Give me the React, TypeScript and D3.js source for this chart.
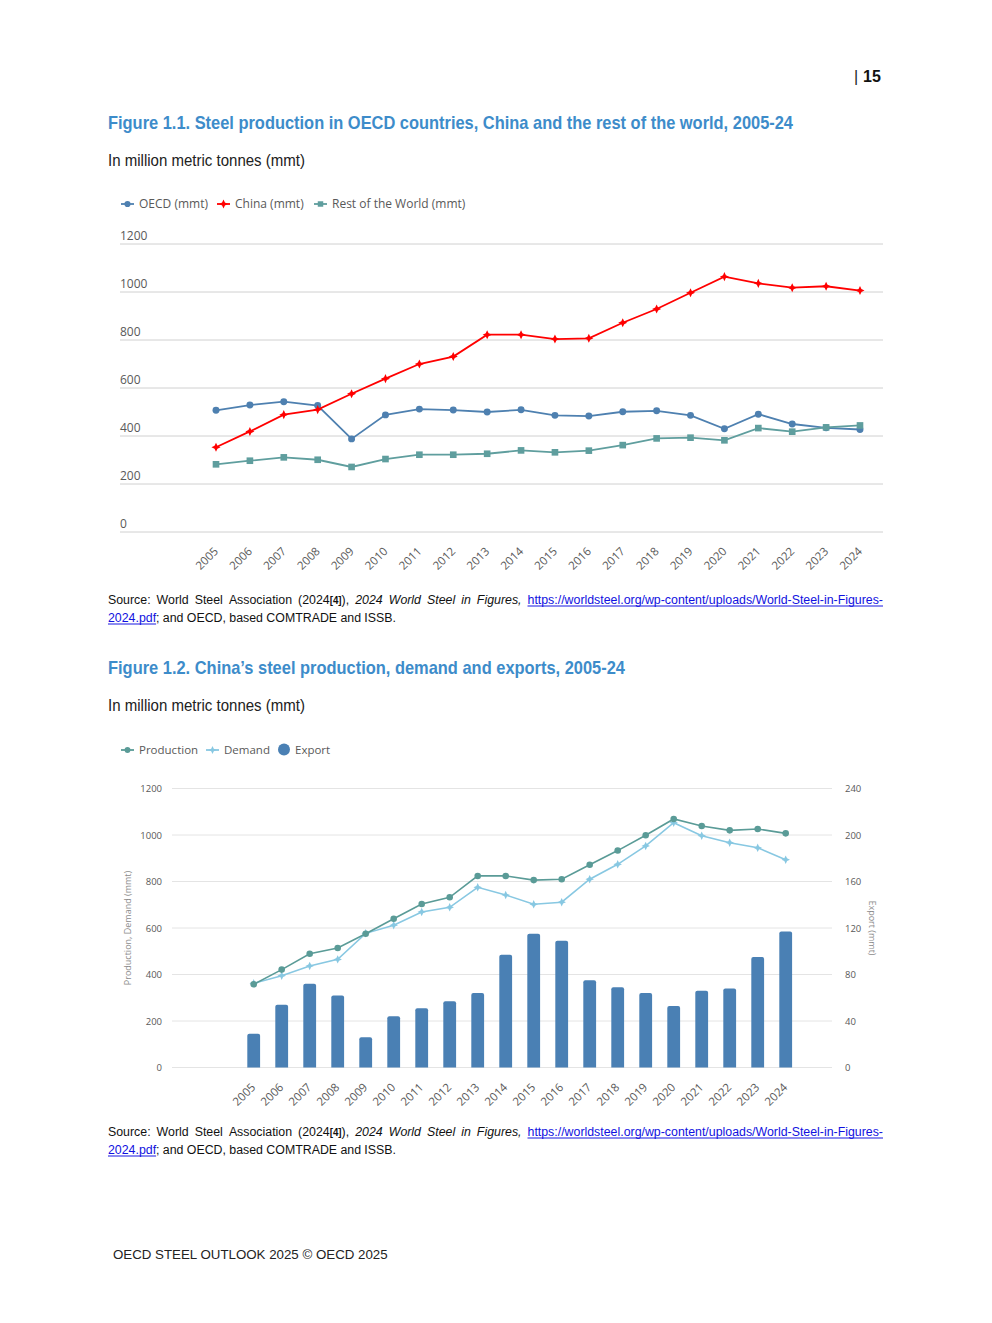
import React, { useEffect, useRef } from "react";
import * as d3 from "d3";

// values, mmt
const years = ["2005", "2006", "2007", "2008", "2009", "2010", "2011", "2012", "2013", "2014",
    "2015", "2016", "2017", "2018", "2019", "2020", "2021", "2022", "2023", "2024"];

const oecd = [507, 529, 543, 527, 388, 488, 512, 508, 500, 509, 486, 483, 501, 505, 486, 430, 491, 450, 434, 427];
const china = [353, 419, 489, 510, 576, 639, 700, 731, 822, 822, 804, 807, 872, 929, 997, 1064, 1036, 1018, 1024, 1006];
const restOfWorld = [282, 297, 311, 301, 271, 304, 322, 322, 326, 340, 332, 339, 362, 390, 393, 382, 433, 418, 436, 444];

const production = [358, 421, 489, 514, 575, 640, 703, 732, 824, 824, 806, 810, 872, 933, 999, 1069, 1039, 1020, 1026, 1007];
const demand = [362, 395, 437, 465, 577, 612, 669, 689, 775, 742, 702, 711, 810, 874, 953, 1053, 997, 967, 945, 894];
const exportVals = [29, 54, 72, 62, 26, 44, 51, 57, 64, 97, 115, 109, 75, 69, 64, 53, 66, 68, 95, 117];

const leftTicks = [0, 200, 400, 600, 800, 1000, 1200];
const rightTicks = [0, 40, 80, 120, 160, 200, 240];

const FONT_UI = "'Open Sans', 'Noto Sans', sans-serif";
const FONT_NARROW = "'Liberation Sans Narrow', 'Arial Narrow', 'Liberation Sans', sans-serif";
const FONT_ARIAL = "'Liberation Sans', Arial, sans-serif";

const C_OECD = "#4e80b0";
const C_CHINA = "#ff0000";
const C_ROW = "#5f9e9e";
const C_PROD = "#5a9b97";
const C_DEMAND = "#88c8e2";
const C_EXPORT = "#4a80b4";
const C_TITLE = "#3d8cca";
const C_AXIS = "#595959";

type Piece = { t: string; italic?: boolean; link?: boolean; small?: boolean };

const sourceLine1: Piece[][] = [
    [{ t: "Source:" }], [{ t: "World" }], [{ t: "Steel" }], [{ t: "Association" }],
    [{ t: "(2024" }, { t: "[4]", small: true }, { t: ")," }],
    [{ t: "2024", italic: true }], [{ t: "World", italic: true }], [{ t: "Steel", italic: true }],
    [{ t: "in", italic: true }], [{ t: "Figures,", italic: true }],
    [{ t: "https://worldsteel.org/wp-content/uploads/World-Steel-in-Figures-", link: true }],
];
const sourceLine2: Piece[][] = [
    [{ t: "2024.pdf", link: true }, { t: ";" }], [{ t: "and" }], [{ t: "OECD," }], [{ t: "based" }],
    [{ t: "COMTRADE" }], [{ t: "and" }], [{ t: "ISSB." }],
];

// four pointed star marker
const star4 = {
    draw(ctx: any, size: number) {
        const r = Math.sqrt(size) * 0.8;
        const i = r * 0.32;
        ctx.moveTo(0, -r); ctx.lineTo(i, -i); ctx.lineTo(r, 0); ctx.lineTo(i, i);
        ctx.lineTo(0, r); ctx.lineTo(-i, i); ctx.lineTo(-r, 0); ctx.lineTo(-i, -i);
        ctx.closePath();
    },
};

// narrow look: draw in the sans font and squeeze horizontally
const CONDENSE = 0.93;

function textLine(svg: any, y: number, x0: number, x1: number, words: Piece[][], justify: boolean) {
    const g = svg.append("g")
        .attr("transform", `translate(${x0},0) scale(${CONDENSE},1) translate(${-x0},0)`);
    const nodes = words.map((w) => {
        const t = g.append("text").attr("y", y)
            .attr("font-family", FONT_NARROW).attr("font-size", 13.3).attr("fill", "#111");
        w.forEach((p) => {
            t.append("tspan").text(p.t)
                .attr("font-style", p.italic ? "italic" : null)
                .attr("fill", p.link ? "#1010e0" : null)
                .attr("font-size", p.small ? 10.5 : null)
                .attr("font-weight", p.small ? "bold" : null);
        });
        return t;
    });
    const widths = nodes.map((n: any) => (n.node() as SVGTextElement).getComputedTextLength());
    const total = d3.sum(widths);
    const avail = (x1 - x0) / CONDENSE;
    let gap = justify ? (avail - total) / (words.length - 1) : 3.6;
    if (justify && gap < 2) {
        const s = avail / (total + 2 * (words.length - 1));
        g.attr("transform", `translate(${x0},0) scale(${CONDENSE * s},1) translate(${-x0},0)`);
        gap = 2;
    }
    let x = x0;
    nodes.forEach((n: any, i: number) => {
        n.attr("x", x);
        let px = x;
        n.selectAll("tspan").each(function (this: SVGTSpanElement, _d: any, k: number) {
            const w = this.getComputedTextLength();
            if (words[i][k].link) {
                g.append("line").attr("x1", px).attr("x2", px + w)
                    .attr("y1", y + 2).attr("y2", y + 2)
                    .attr("stroke", "#1010e0").attr("stroke-width", 1);
            }
            px += w;
        });
        x += widths[i] + gap;
    });
}

function legendItem(svg: any, x: number, y: number, color: string, symbol: any, size: number, label: string, fontSize: number) {
    svg.append("line").attr("x1", x).attr("x2", x + 13).attr("y1", y).attr("y2", y)
        .attr("stroke", color).attr("stroke-width", 1.8);
    svg.append("path").attr("transform", `translate(${x + 6.5},${y})`)
        .attr("d", d3.symbol().type(symbol).size(size)()).attr("fill", color);
    svg.append("text").attr("x", x + 18).attr("y", y + 4).text(label)
        .attr("font-family", FONT_UI).attr("font-size", fontSize).attr("fill", C_AXIS);
}

function heading(svg: any, x: number, y: number, text: string, size: number, bold: boolean, color: string, len: number) {
    svg.append("text").attr("x", x).attr("y", y).text(text)
        .attr("font-family", FONT_NARROW).attr("font-size", size)
        .attr("font-weight", bold ? "bold" : null).attr("fill", color)
        .attr("textLength", len).attr("lengthAdjust", "spacingAndGlyphs");
}

const App: React.FC = () => {
    const svgRef = useRef<SVGSVGElement | null>(null);

    useEffect(() => {
        if (!svgRef.current) return;
        const svg = d3.select(svgRef.current);
        svg.selectAll("*").remove();

        // page number
        svg.append("text").attr("x", 854).attr("y", 82).text("|")
            .attr("font-family", FONT_ARIAL).attr("font-size", 16).attr("fill", "#222");
        svg.append("text").attr("x", 863).attr("y", 82).text("15")
            .attr("font-family", FONT_ARIAL).attr("font-size", 16).attr("font-weight", "bold").attr("fill", "#111");

        // ---------- Figure 1.1 ----------
        heading(svg, 108, 129, "Figure 1.1. Steel production in OECD countries, China and the rest of the world, 2005-24",
            19, true, C_TITLE, 685);
        heading(svg, 108, 166, "In million metric tonnes (mmt)", 17, false, "#222", 197);

        legendItem(svg, 121, 204, C_OECD, d3.symbolCircle, 30, "OECD (mmt)", 12);
        legendItem(svg, 217, 204, C_CHINA, star4, 30, "China (mmt)", 12);
        legendItem(svg, 314, 204, C_ROW, d3.symbolSquare, 30, "Rest of the World (mmt)", 12);

        const x1 = d3.scalePoint<string>().domain(years).range([216, 860]);
        const y1 = d3.scaleLinear().domain([0, 1200]).range([532, 244]);

        const g1 = svg.append("g");
        g1.selectAll("line.grid").data(leftTicks).enter().append("line")
            .attr("x1", 120).attr("x2", 883)
            .attr("y1", (d) => y1(d)).attr("y2", (d) => y1(d))
            .attr("stroke", "#d0d0d0").attr("stroke-width", 1);
        g1.selectAll("text.ylab").data(leftTicks).enter().append("text")
            .attr("x", 120).attr("y", (d) => y1(d) - 4).text((d) => String(d))
            .attr("font-family", FONT_UI).attr("font-size", 12).attr("fill", C_AXIS);
        g1.selectAll("text.xlab").data(years).enter().append("text")
            .attr("transform", (d) => `translate(${x1(d)! + 3},552) rotate(-45)`)
            .attr("text-anchor", "end").text((d) => d)
            .attr("font-family", FONT_UI).attr("font-size", 11.5).attr("fill", C_AXIS);

        const series1 = [
            { values: oecd, color: C_OECD, symbol: d3.symbolCircle, size: 38 },
            { values: china, color: C_CHINA, symbol: star4, size: 32 },
            { values: restOfWorld, color: C_ROW, symbol: d3.symbolSquare, size: 44 },
        ];
        series1.forEach((s) => {
            const line = d3.line<number>().x((_d, i) => x1(years[i])!).y((d) => y1(d));
            g1.append("path").datum(s.values).attr("d", line)
                .attr("fill", "none").attr("stroke", s.color).attr("stroke-width", 1.8);
            g1.append("g").selectAll("path").data(s.values).enter().append("path")
                .attr("transform", (d, i) => `translate(${x1(years[i])},${y1(d)})`)
                .attr("d", d3.symbol().type(s.symbol as any).size(s.size)() as string)
                .attr("fill", s.color);
        });

        textLine(svg, 604, 108, 883, sourceLine1, true);
        textLine(svg, 622, 108, 883, sourceLine2, false);

        // ---------- Figure 1.2 ----------
        heading(svg, 108, 674, "Figure 1.2. China\u2019s steel production, demand and exports, 2005-24",
            19, true, C_TITLE, 517);
        heading(svg, 108, 711, "In million metric tonnes (mmt)", 17, false, "#222", 197);

        legendItem(svg, 121, 750, C_PROD, d3.symbolCircle, 26, "Production", 11.5);
        legendItem(svg, 206, 750, C_DEMAND, star4, 26, "Demand", 11.5);
        svg.append("circle").attr("cx", 284).attr("cy", 749.5).attr("r", 6).attr("fill", C_EXPORT);
        svg.append("text").attr("x", 295).attr("y", 754).text("Export")
            .attr("font-family", FONT_UI).attr("font-size", 11.5).attr("fill", C_AXIS);

        const x2 = d3.scalePoint<string>().domain(years).range([253.7, 785.7]);
        const yL = d3.scaleLinear().domain([0, 1200]).range([1067.5, 788.5]);
        const yR = d3.scaleLinear().domain([0, 240]).range([1067.5, 788.5]);

        const g2 = svg.append("g");
        g2.selectAll("line.grid").data(leftTicks).enter().append("line")
            .attr("x1", 172).attr("x2", 832)
            .attr("y1", (d) => yL(d)).attr("y2", (d) => yL(d))
            .attr("stroke", "#e4e4e4").attr("stroke-width", 1);
        g2.selectAll("text.yl").data(leftTicks).enter().append("text")
            .attr("x", 162).attr("y", (d) => yL(d) + 3.5).attr("text-anchor", "end").text((d) => String(d))
            .attr("font-family", FONT_UI).attr("font-size", 9.5).attr("fill", C_AXIS);
        g2.selectAll("text.yr").data(rightTicks).enter().append("text")
            .attr("x", 845).attr("y", (d) => yR(d) + 3.5).text((d) => String(d))
            .attr("font-family", FONT_UI).attr("font-size", 9.5).attr("fill", C_AXIS);
        g2.append("text").attr("transform", "translate(131,928) rotate(-90)")
            .attr("text-anchor", "middle").text("Production, Demand (mmt)")
            .attr("font-family", FONT_UI).attr("font-size", 9).attr("fill", "#8c8c8c");
        g2.append("text").attr("transform", "translate(869,928) rotate(90)")
            .attr("text-anchor", "middle").text("Export (mmt)")
            .attr("font-family", FONT_UI).attr("font-size", 9).attr("fill", "#8c8c8c");
        g2.selectAll("text.xlab").data(years).enter().append("text")
            .attr("transform", (d) => `translate(${x2(d)! + 2.5},1088) rotate(-45)`)
            .attr("text-anchor", "end").text((d) => d)
            .attr("font-family", FONT_UI).attr("font-size", 11.5).attr("fill", C_AXIS);

        const barW = 12.8;
        g2.selectAll("path.bar").data(exportVals).enter().append("path")
            .attr("d", (d, i) => {
                const x = x2(years[i])! - barW / 2;
                const top = yR(d);
                const r = 2;
                return `M${x},${yR(0)}V${top + r}Q${x},${top} ${x + r},${top}H${x + barW - r}Q${x + barW},${top} ${x + barW},${top + r}V${yR(0)}Z`;
            })
            .attr("fill", C_EXPORT);

        const series2 = [
            { values: demand, color: C_DEMAND, symbol: star4, size: 28 },
            { values: production, color: C_PROD, symbol: d3.symbolCircle, size: 34 },
        ];
        series2.forEach((s) => {
            const line = d3.line<number>().x((_d, i) => x2(years[i])!).y((d) => yL(d));
            g2.append("path").datum(s.values).attr("d", line)
                .attr("fill", "none").attr("stroke", s.color).attr("stroke-width", 1.6);
            g2.append("g").selectAll("path").data(s.values).enter().append("path")
                .attr("transform", (d, i) => `translate(${x2(years[i])},${yL(d)})`)
                .attr("d", d3.symbol().type(s.symbol as any).size(s.size)() as string)
                .attr("fill", s.color);
        });

        textLine(svg, 1136, 108, 883, sourceLine1, true);
        textLine(svg, 1154, 108, 883, sourceLine2, false);

        // footer
        svg.append("text").attr("x", 113).attr("y", 1259).text("OECD STEEL OUTLOOK 2025 \u00A9 OECD 2025")
            .attr("font-family", FONT_ARIAL).attr("font-size", 13.3).attr("fill", "#222");
    }, []);

    return (
        <svg ref={svgRef} width={992} height={1323}
            style={{ position: "absolute", left: 0, top: 0, background: "#fff" }} />
    );
};

export default App;
